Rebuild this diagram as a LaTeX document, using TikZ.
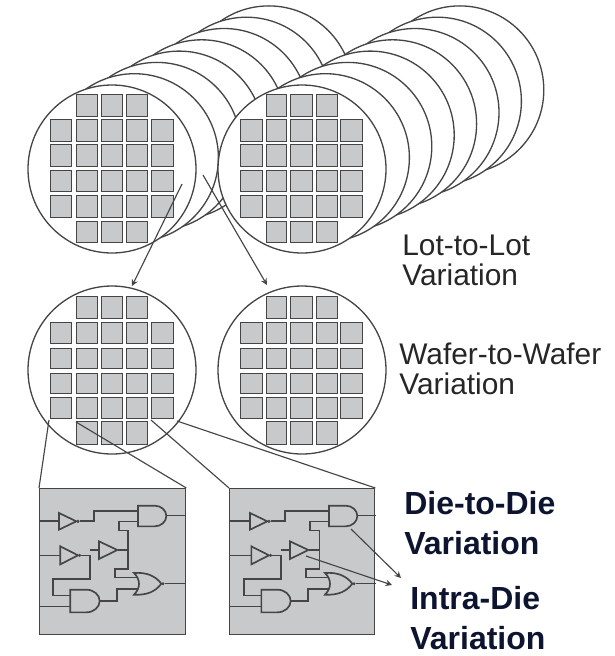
\documentclass[tikz,border=0pt]{standalone}
\usepackage{fontspec}
\setmainfont{Liberation Sans}
\definecolor{diegray}{HTML}{C8C9CA}
\definecolor{linegray}{HTML}{454545}
\definecolor{boldnavy}{HTML}{0C1430}
\tikzset{
	wafer/.style={draw=linegray,fill=white,line width=0.75pt},
	die/.style={draw=linegray,fill=diegray,line width=0.75pt},
	wire/.style={draw=linegray,line width=0.95pt,line join=miter},
	gate/.style={draw=linegray,fill=diegray,line width=0.95pt},
	zoomline/.style={draw=linegray,line width=0.65pt},
	pointer/.style={draw=linegray,line width=0.65pt,->},
	plainlabel/.style={inner sep=0pt,anchor=west,align=left,text=black!85,font=\fontsize{17}{17}\selectfont},
	boldlabel/.style={inner sep=0pt,anchor=west,align=left,text=boldnavy,font=\fontsize{18.2}{22.7}\selectfont\bfseries},
}
% columns and rows of dies as left/right and top/bottom pairs
\newcommand{\waferdies}[4]{
	\foreach \xa/\xb in {#1}{
		\foreach \ya/\yb in {#3}{
			\draw[die] (\xa+0.5,\ya+0.5) rectangle (\xb-0.5,\yb-0.5);
		}
	}
	\foreach \xa/\xb in {#2}{
		\foreach \ya/\yb in {#4}{
			\draw[die] (\xa+0.5,\ya+0.5) rectangle (\xb-0.5,\yb-0.5);
		}
	}
}
\newcommand{\circuit}{
	\draw[wire] (0,98)--(60,98) (122,98)--(164,98)--(164,68)--(297,68);
	\draw[wire] (297,100)--(240,100)--(240,127)--(268,127)--(268,243)--(228,243)--(228,268)--(295,268);
	\draw[wire] (237,186)--(268,186);
	\draw[wire] (0,202)--(64,202) (127,202)--(152,202)--(152,273)--(42,273)--(42,322)--(94,322);
	\draw[wire] (152,186)--(180,186);
	\draw[wire] (0,355)--(94,355) (182,339)--(234,339)--(234,303)--(297,303);
	\draw[wire] (382,82)--(437,82) (377,286)--(437,286);
	% inverters
	\draw[gate] (60,75)--(60,125)--(112,100)--cycle;
	\fill[linegray] (117,100) circle(5);
	\draw[gate] (64,175)--(64,229)--(117,202)--cycle;
	\fill[linegray] (122,202) circle(5);
	\draw[gate] (180,160)--(180,213)--(235,186)--cycle;
	% and gates
	\draw[gate] (297,53)--(347,53) arc(-90:90:35 and 31)--(297,115)--cycle;
	\draw[gate] (94,305)--(142,305) arc(-90:90:40 and 34)--(94,373)--cycle;
	% or gate
	\draw[gate] (285,255) .. controls (325,252) and (350,265) .. (367,287)
		.. controls (350,310) and (325,322) .. (285,320)
		.. controls (305,300) and (305,275) .. (285,255)--cycle;
	\fill[linegray] (372,287) circle(5);
}
\begin{document}
\begin{tikzpicture}[x=0.02cm,y=-0.02cm,>=stealth]
	\useasboundingbox (0,0) rectangle (615,656);
	% stacks of wafers, back one first
	\foreach \k in {7,6,...,1}{
		\draw[wafer] ({112+22.4*\k},{169-11.3*\k}) circle(84);
	}
	\draw[wafer] (112,169) circle(84);
	\foreach \k in {7,6,...,1}{
		\draw[wafer] ({303+22.4*\k},{169-11.3*\k}) circle(84);
	}
	\draw[wafer] (302,169) circle(84);
	\draw[wafer] (112,370) circle(84);
	\draw[wafer] (302,370) circle(84);
	
	\waferdies{76/98,101/123,126/148}{50/72,76/98,101/123,126/148,151/174}
		{94/117,221/243}{119/142,144/167,170/192,195/218}
	\waferdies{266/287,290/313,316/338}{240/263,266/287,290/313,316/338,340/363}
		{94/117,221/243}{119/142,144/167,170/192,195/218}
	\waferdies{76/98,101/123,126/148}{50/72,76/98,101/123,126/148,151/174}
		{296/319,421/445}{322/344,348/369,373/394,397/419}
	\waferdies{266/287,290/313,316/338}{240/263,266/287,290/313,316/338,340/363}
		{296/319,421/445}{322/344,348/369,373/394,397/419}
	
	% chips
	\node[die,minimum width=0.02cm*146,minimum height=0.02cm*146,inner sep=0pt,anchor=north west] (chipL) at (39,488) {};
	\node[die,minimum width=0.02cm*145,minimum height=0.02cm*146,inner sep=0pt,anchor=north west] (chipR) at (229,488) {};
	\begin{scope}[shift={(39,488)},scale=1/3]
		\circuit
	\end{scope}
	\begin{scope}[shift={(230,488)},scale=1/3]
		\circuit
	\end{scope}
	
	% zoom lines
	\coordinate (dieLa) at (49,420);
	\coordinate (dieLb) at (76,422);
	\coordinate (dieRa) at (151,420);
	\coordinate (dieRb) at (177,421);
	\draw[zoomline] (dieLa)--(chipL.north west);
	\draw[zoomline] (dieLb)--(chipL.north east);
	\draw[zoomline] (dieRa)--(chipR.north west);
	\draw[zoomline] (dieRb)--(chipR.north east);
	
	\coordinate (lotA) at (182,184);
	\coordinate (lotB) at (203,175);
	\coordinate (waferA) at (132,286);
	\coordinate (waferB) at (267,285);
	\draw[pointer] (lotA)--(waferA);
	\draw[pointer] (lotB)--(waferB);
	
	\coordinate (andOut) at (351,529);
	\coordinate (bufOut) at (306,556);
	\coordinate (tipA) at (401,578);
	\coordinate (tipB) at (392,585);
	\draw[pointer] (andOut)--(tipA);
	\draw[pointer] (bufOut)--(tipB);
	
	% labels
	\node[plainlabel] (lotlabel) at (402,260) {Lot-to-Lot\\Variation};
	\node[plainlabel] (waferlabel) at (399,369) {Wafer-to-Wafer\\Variation};
	\node[boldlabel] (dielabel) at (404,523) {Die-to-Die\\Variation};
	\node[boldlabel] (intralabel) at (410,618) {Intra-Die\\Variation};
\end{tikzpicture}
\end{document}
